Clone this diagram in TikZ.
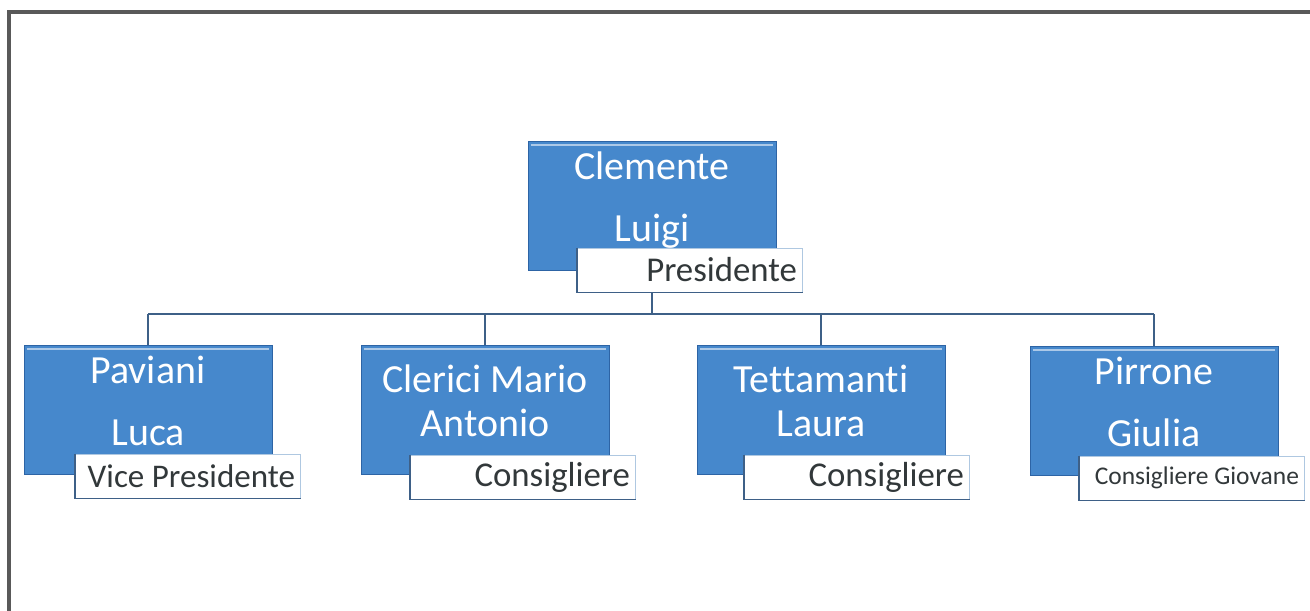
\documentclass[tikz,border=0pt]{standalone}
\usepackage{fontspec}
\setmainfont{Carlito}[Ligatures=CommonOff]

\definecolor{boxblue}{RGB}{70,136,204}
\definecolor{boxedge}{RGB}{45,100,165}
\definecolor{linkblue}{RGB}{62,96,135}
\definecolor{rolegray}{RGB}{50,56,58}
\definecolor{roleedge}{RGB}{175,200,225}

\tikzstyle{person}=[rectangle,fill=boxblue,draw=boxedge,text=white,minimum width=49.6mm,minimum height=25.8mm,inner sep=0pt,align=center,text height=40.8pt,text depth=0pt,font=\fontsize{22.7}{25.5}\selectfont]
\tikzstyle{tight}=[text height=30.6pt]
\tikzstyle{role}=[rectangle,fill=white,draw=roleedge,text=rolegray,minimum height=8.8mm,text width=42.8mm,inner xsep=1.1mm,inner ysep=0pt,align=flush right,font=\fontsize{19.8}{22}\selectfont]
\tikzstyle{roleside}=[draw=linkblue,line width=0.8pt]
\tikzstyle{bevel}=[draw=white!55!boxblue,line width=1.4pt]
\tikzstyle{link}=[draw=linkblue,line width=1.2pt]
\tikzstyle{frame}=[draw=black!65,line width=2pt]

\begin{document}
\begin{tikzpicture}[x=0.2mm,y=-0.2mm]
		\useasboundingbox (0,0) rectangle (1310,611);
		% Outer frame, only top and left sides show
		\draw[frame] (9,611) -- (9,12) -- (1310,12);
		% The people
		\node[person] (c0) at (652,206) {Clemente\\[10pt]Luigi};
		\node[person] (c1) at (148,410) {Paviani\\[10pt]Luca};
		\node[person,tight] (c2) at (485,410) {Clerici Mario\\Antonio};
		\node[person,tight] (c3) at (821,410) {Tettamanti\\Laura};
		\node[person] (c4) at (1154,411) {Pirrone\\[10pt]Giulia};
		\foreach \p in {c0,c1,c2,c3,c4}
				\path[bevel] ([shift={(3,4)}]\p.north west) -- ([shift={(-3,4)}]\p.north east);
		% Their roles
		\node[role] (l0) at (690,270) {Presidente};
		\node[role,font=\fontsize{18.8}{21}\selectfont] (l1) at (188,476) {Vice Presidente};
		\node[role] (l2) at (523,477) {Consigliere};
		\node[role] (l3) at (857,477) {Consigliere};
		\node[role,font=\fontsize{14.5}{17}\selectfont] (l4) at (1192,478) {Consigliere Giovane};
		\foreach \r in {l0,l1,l2,l3,l4}
				\path[roleside] (\r.north west) |- (\r.south east);
		% Connect the president with the others
		\coordinate (bus) at (652,314);
		\path[link] (c0.south |- l0.south) -- (bus);
		\path[link] (c1 |- bus) -- (c4 |- bus);
		\foreach \dest in {c1,c2,c3,c4}
				\path[link] (\dest |- bus) -- (\dest.north);
\end{tikzpicture}
\end{document}
